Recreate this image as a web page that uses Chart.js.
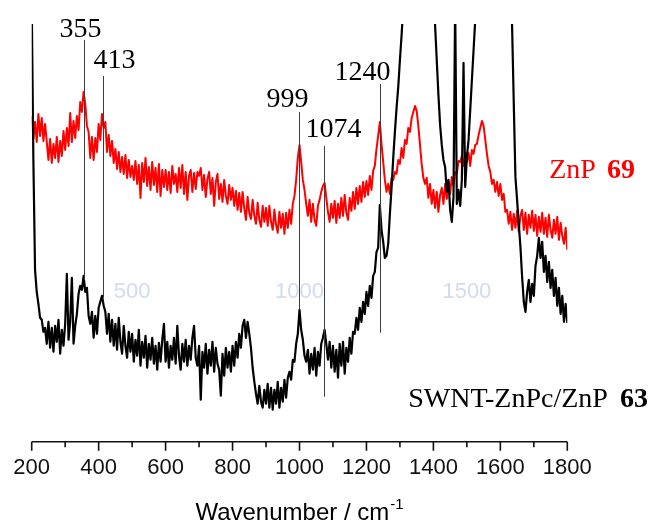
<!DOCTYPE html>
<html>
<head>
<meta charset="utf-8">
<title>Raman spectra - ZnP 69 and SWNT-ZnPc/ZnP 63</title>
<script src="https://cdn.jsdelivr.net/npm/chart.js@4.4.1/dist/chart.umd.min.js"></script>
<style>
    html, body { margin: 0; padding: 0; background: #ffffff; }
    #chart-wrap { width: 654px; height: 523px; position: relative; }
</style>
</head>
<body>
<div id="chart-wrap"><canvas id="raman-chart"></canvas></div>
<script>
// Raman spectra, intensity in arbitrary units (no y axis shown)

// sampling grid of the spectrometer, cm-1
const wavenumbers = [];
for (let w = 200; w <= 1800; w += 5) wavenumbers.push(w);

// ZnP 69 (red trace), one row per 100 cm-1
const znpIntensity = [
    326, 303, 320, 300, 328, 306, 324, 301, 318, 300,  282, 303, 279, 298, 284, 305, 280, 301, 286, 311,
    292, 314, 296, 329, 300, 321, 304, 326, 312, 340,  330, 350, 338, 316, 310, 284, 305, 282, 304, 290,
    318, 302, 328, 314, 320, 290, 307, 286, 301, 279,  293, 273, 290, 270, 285, 268, 287, 264, 282, 265,
    276, 262, 281, 258, 277, 244, 279, 260, 284, 256,  275, 252, 280, 257, 274, 250, 278, 246, 272, 255,
    272, 252, 270, 249, 276, 258, 268, 250, 274, 254,  277, 248, 270, 242, 266, 272, 250, 269, 253, 270,
    266, 274, 252, 267, 245, 263, 270, 248, 264, 236,  260, 268, 243, 258, 240, 262, 246, 238, 257, 242,
    254, 236, 251, 232, 249, 230, 250, 234, 222, 245,  229, 223, 242, 226, 218, 239, 222, 215, 236, 220,
    234, 216, 236, 220, 212, 232, 217, 209, 230, 214,  228, 208, 229, 214, 232, 218, 238, 246, 262, 284,
    297, 280, 262, 252, 238, 226, 242, 220, 238, 222,  216, 236, 242, 250, 256, 259, 244, 230, 220, 238,
    224, 241, 219, 238, 224, 244, 226, 247, 229, 222,  244, 231, 250, 233, 254, 238, 256, 240, 260, 245,
    261, 247, 266, 252, 271, 276, 293, 306, 320, 298,  280, 262, 250, 258, 248, 264, 262, 270, 268, 282,
    278, 294, 284, 302, 298, 314, 310, 324, 330, 336,  331, 316, 297, 278, 264, 258, 264, 244, 258, 238,
    252, 234, 250, 230, 247, 254, 238, 258, 243, 261,  248, 265, 256, 270, 268, 281, 280, 286, 276, 289,
    280, 289, 276, 292, 288, 297, 298, 307, 314, 321,  316, 302, 288, 276, 270, 258, 262, 250, 260, 246,
    258, 242, 248, 230, 232, 218, 230, 212, 228, 214,  231, 210, 226, 232, 212, 229, 208, 227, 214, 231,
    211, 227, 206, 225, 210, 229, 208, 224, 205, 227,  212, 204, 222, 208, 225, 202, 219, 206, 198, 214,
    192
];

// SWNT-ZnPc/ZnP 63 (black trace); D, G and G' bands run off the top
const swntIntensity = [
    440, 282, 172, 150, 138, 124, 122, 110, 114,  98,  120,  94, 114,  90, 116, 100, 122,  88, 112,  96,
    118, 168, 102, 120, 164,  98, 116, 128, 148, 156,  152, 166, 150, 154, 126, 118, 130, 104, 126, 108,
    134, 140, 146, 136, 130, 108, 128, 100, 122,  96,  118,  92, 124, 100,  88, 116,  96,  84, 110,  90,
    108,  80, 102,  86, 112,  76, 100,  84, 106,  74,   98,  82, 104,  78,  96,  72,  99,  80, 102, 118,
     80, 100,  74,  96,  82, 104,  78, 116,  86,  72,   98,  80, 102,  76,  96,  82, 104, 116,  84,  76,
     96,  42,  90,  74,  98,  68,  92,  76, 100,  70,   94,  78,  72,  46,  88,  66,  94,  74,  90,  70,
     96,  76, 100,  84, 108,  94, 116, 122, 104, 120,  108,  94,  74,  60,  48,  38,  56,  40,  34,  52,
     38,  58,  34,  54,  32,  52,  38,  60,  34,  54,   40,  62,  44,  64,  70,  62,  82,  80,  98, 108,
    132, 112, 102,  86,  80,  92,  68,  88,  72,  94,   66,  90,  76,  98, 104, 112,  98,  82, 100,  74,
     96,  70,  92,  64,  98,  76, 100,  68,  94,  80,  104,  88, 110, 108, 124, 112, 134, 120, 140, 128,
    150, 136, 156, 144, 166, 170, 190, 194, 237, 212,  200, 184, 186, 198, 228, 254, 284, 310, 334, 355,
    382, 407, 436, 470, 510, 560, 620, 680, 740, 800,  850, 880, 860, 820, 760, 700, 630, 560, 500, 460,
    440, 417, 382, 347, 317, 297, 282, 275, 250, 262,  232, 220, 245, 440, 238, 252, 236, 262, 379, 255,
    285, 302, 332, 362, 392, 422, 470, 540, 620, 700,  760, 800, 820, 800, 760, 720, 680, 640, 600, 560,
    530, 500, 480, 460, 450, 445, 440, 417, 340, 265,  242, 218, 195, 165, 140, 130, 150, 162, 140, 158,
    146, 176, 186, 204, 184, 200, 170, 186, 160, 180,  154, 172, 146, 164, 136, 154, 128, 146, 120, 138,
    119
];

// labelled peaks: marker line runs from top to bottom (intensity units)
const peakLabels = ['355', '413', '999', '1074', '1240'];
const peakPositions = [355, 413, 999, 1074, 1240];
const peakLineTop = [402, 366, 330, 296, 358];
const peakLineBottom = [162, 144, 132, 45, 109];

// axis
const minorTicks = [300, 500, 700, 900, 1100, 1300, 1500, 1700];
const axisTitle = 'Wavenumber / cm';
const axisTitleSup = '-1';

// faint leftover labels of a second axis in the original figure
const ghostLabels = ['500', '1000', '1500'];
const ghostPositions = [500, 1000, 1500];
const ghostLevel = 150;

// series names written next to the traces
const seriesNames = ['ZnP', 'SWNT-ZnPc/ZnP'];
const seriesNumbers = ['69', '63'];
const seriesNameAt = [[1746, 264], [1325, 35]];

// drawing styles (pixel offsets for texts)
const style = {
    serif: '"Liberation Serif", "Times New Roman", serif',
    sans: '"Liberation Sans", Arial, sans-serif',
    peakDx: [-4, 11, -12, 9, -18],
    peakGap: [3, 8, 5, 9, 4],
    nameGap: [11, 12],
    nameColors: ['#ff0000', '#000000']
};

document.addEventListener('DOMContentLoaded', function() {
    initRamanChart();
});

const ramanDecor = {
    id: 'ramanDecor',
    beforeDatasetsDraw(chart) {
        const { ctx } = chart;
        const xs = chart.scales.x, ys = chart.scales.y;
        ctx.save();
        ctx.font = '22px ' + style.sans;
        ctx.fillStyle = '#d2dcec';
        ctx.textAlign = 'center';
        ctx.textBaseline = 'middle';
        ghostPositions.forEach(function(w, i) {
            ctx.fillText(ghostLabels[i], xs.getPixelForValue(w), ys.getPixelForValue(ghostLevel));
        });
        ctx.restore();
    },
    afterDatasetsDraw(chart) {
        const { ctx, chartArea } = chart;
        const xs = chart.scales.x, ys = chart.scales.y;
        ctx.save();

        // peak marker lines and their labels
        peakPositions.forEach(function(w, i) {
            const px = Math.round(xs.getPixelForValue(w)) + 0.5;
            const top = ys.getPixelForValue(peakLineTop[i]);
            const bottom = ys.getPixelForValue(peakLineBottom[i]);
            ctx.strokeStyle = '#3c3c3c';
            ctx.lineWidth = 1;
            ctx.beginPath();
            ctx.moveTo(px, top);
            ctx.lineTo(px, bottom);
            ctx.stroke();
            ctx.fillStyle = '#000';
            ctx.font = '28px ' + style.serif;
            ctx.textAlign = 'center';
            ctx.textBaseline = 'alphabetic';
            ctx.fillText(peakLabels[i], px + style.peakDx[i], top - style.peakGap[i]);
        });

        // series names: regular name + bold number
        seriesNames.forEach(function(name, i) {
            const x0 = xs.getPixelForValue(seriesNameAt[i][0]);
            const y0 = ys.getPixelForValue(seriesNameAt[i][1]);
            ctx.fillStyle = style.nameColors[i];
            ctx.textAlign = 'left';
            ctx.textBaseline = 'alphabetic';
            ctx.font = '28px ' + style.serif;
            ctx.fillText(name, x0, y0);
            const nw = ctx.measureText(name).width;
            ctx.font = 'bold 28px ' + style.serif;
            ctx.fillText(seriesNumbers[i], x0 + nw + style.nameGap[i], y0);
        });

        // bottom axis line with downward ticks
        const base = chartArea.bottom;
        const x0 = xs.getPixelForValue(xs.min), x1 = xs.getPixelForValue(xs.max);
        ctx.strokeStyle = '#111';
        ctx.lineWidth = 1.6;
        ctx.beginPath();
        ctx.moveTo(x0, base);
        ctx.lineTo(x1, base);
        xs.ticks.forEach(function(t) {
            const px = xs.getPixelForValue(t.value);
            ctx.moveTo(px, base);
            ctx.lineTo(px, base + 9);
        });
        minorTicks.forEach(function(v) {
            const px = xs.getPixelForValue(v);
            ctx.moveTo(px, base);
            ctx.lineTo(px, base + 5.5);
        });
        ctx.stroke();

        // axis title with superscript
        ctx.fillStyle = '#000';
        ctx.textAlign = 'left';
        ctx.textBaseline = 'alphabetic';
        ctx.font = '24px ' + style.sans;
        const mw = ctx.measureText(axisTitle).width;
        ctx.font = '15px ' + style.sans;
        const sw = ctx.measureText(axisTitleSup).width;
        const start = (chartArea.left + chartArea.right) / 2 - (mw + sw + 1) / 2;
        const baseline = chart.height - 3;
        ctx.font = '24px ' + style.sans;
        ctx.fillText(axisTitle, start, baseline);
        ctx.font = '15px ' + style.sans;
        ctx.fillText(axisTitleSup, start + mw + 1, baseline - 11);

        ctx.restore();
    }
};

function initRamanChart() {
    const ctx = document.getElementById('raman-chart');
    if (!ctx) return;

    new Chart(ctx, {
        type: 'line',
        data: {
            datasets: [
                {
                    label: 'SWNT-ZnPc/ZnP 63',
                    data: wavenumbers.map(function(w, i) { return { x: w, y: swntIntensity[i] }; }),
                    borderColor: '#000000',
                    borderWidth: 2.2,
                    borderJoinStyle: 'round',
                    pointRadius: 0,
                    tension: 0,
                    fill: false
                },
                {
                    label: 'ZnP 69',
                    data: wavenumbers.map(function(w, i) { return { x: w, y: znpIntensity[i] }; }),
                    borderColor: '#ff0000',
                    borderWidth: 2,
                    borderJoinStyle: 'round',
                    pointRadius: 0,
                    tension: 0,
                    fill: false
                }
            ]
        },
        options: {
            responsive: true,
            maintainAspectRatio: false,
            animation: false,
            events: [],
            layout: {
                padding: { left: 31.7, right: 86.7, top: 24, bottom: 0 }
            },
            scales: {
                x: {
                    type: 'linear',
                    min: 200,
                    max: 1800,
                    grid: { display: false, drawTicks: false },
                    border: { display: false },
                    ticks: {
                        stepSize: 200,
                        autoSkip: false,
                        maxRotation: 0,
                        padding: 13,
                        color: '#111',
                        font: { family: style.sans, size: 22 },
                        callback: function(value) { return String(value); }
                    },
                    afterFit: function(scale) { scale.height = 81.3; }
                },
                y: {
                    display: false,
                    min: 0,
                    max: 418
                }
            },
            plugins: {
                legend: { display: false },
                tooltip: { enabled: false }
            }
        },
        plugins: [ramanDecor]
    });
}
</script>
</body>
</html>
